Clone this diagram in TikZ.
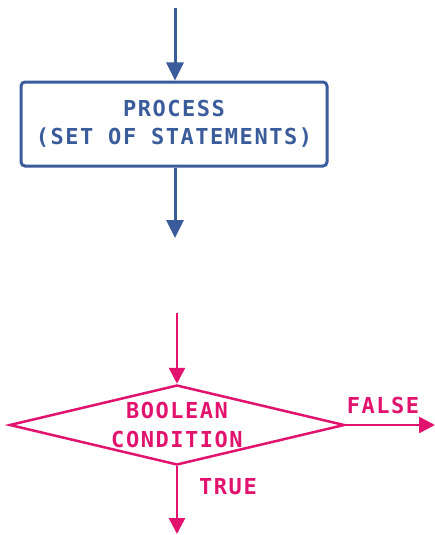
\documentclass[tikz,border=0pt]{standalone}
\usepackage{fontspec}
\usetikzlibrary{arrows.meta,shapes.geometric}
\newfontfamily\monofnt[LetterSpace=7]{DejaVu Sans Mono Bold}
\definecolor{procblue}{HTML}{3A5C9B}
\definecolor{condpink}{HTML}{E2136E}
\begin{document}
\begin{tikzpicture}[x=1pt,y=-1pt,
  lbl/.style={font=\monofnt\fontsize{22}{28.5}\selectfont, inner sep=0pt, align=center},
  bluearrow/.style={draw=procblue, line width=3pt, -{Triangle[width=17pt,length=18pt]}},
  pinkarrow/.style={draw=condpink, line width=2.6pt, -{Triangle[width=16pt,length=16pt]}},
  procbox/.style={draw=procblue, line width=3pt, rounded corners=4pt, minimum width=306pt, minimum height=84pt, text=procblue, lbl},
  conddiamond/.style={diamond, draw=condpink, line width=2.5pt, minimum width=335pt, minimum height=80pt, aspect=4.19, text=condpink, lbl}
]
\useasboundingbox (0,0) rectangle (435,535);
% process
\coordinate (pin) at (175,8);
\node[procbox] (proc) at (174,124) {PROCESS\\(SET OF STATEMENTS)};
\coordinate (pout) at (175,238);
\draw[bluearrow] (pin) -- (pin |- proc.north);
\draw[bluearrow] (pout |- proc.south) -- (pout);
% decision
\coordinate (cin) at (177,313);
\node[conddiamond] (cond) at (177,425) {BOOLEAN\\CONDITION};
\coordinate (cfalse) at (435,425);
\coordinate (ctrue) at (177,534);
\draw[pinkarrow] (cin) -- (cond.north);
\draw[pinkarrow] (cond.east) -- (cfalse);
\draw[pinkarrow] (cond.south) -- (ctrue);
\node[lbl, text=condpink] (flbl) at (383,405) {FALSE};
\node[lbl, text=condpink] (tlbl) at (228,487) {TRUE};
\end{tikzpicture}
\end{document}
